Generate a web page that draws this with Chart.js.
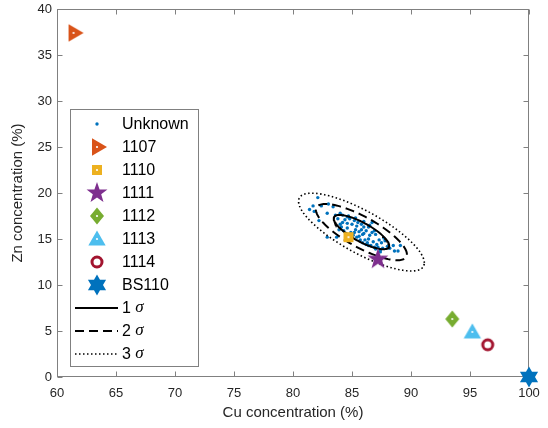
<!DOCTYPE html>
<html><head><meta charset="utf-8">
<script src="https://cdn.jsdelivr.net/npm/chart.js@4.4.0/dist/chart.umd.min.js"></script>
<style>html,body{margin:0;padding:0;background:#fff;}#wrap{width:548px;height:428px;position:relative;}</style>
</head><body><div id="wrap"><canvas id="c" width="548" height="428"></canvas></div>
<script>
// ---- data ----
const unknownX = [82.1,81.7,81.4,82.4,83.0,83.4,82.9,82.2,82.9,83.7,84.6,86.7,88.6,88.9,89.1,88.5,88.2,87.4,86.4,81.8,
83.8,84.0,84.2,84.1,84.4,84.6,84.3,84.8,85.0,84.9,85.2,85.3,85.1,85.5,85.6,85.4,85.8,85.9,85.7,86.0,86.2,86.1,86.4,86.5,86.3,86.7,86.8,86.6,87.0,87.1,87.3,87.2,87.5,87.6,87.8,86.9,85.0,84.5,85.9,86.0,84.7,85.3,87.4,88.0,86.5,85.6,84.2,83.9,86.9,87.7,85.2,86.2,84.6,85.8,86.4,85.4,83.6,84.0,87.0,86.0];
const unknownY = [19.5,18.6,18.2,18.6,18.8,18.5,17.8,17.0,15.2,15.2,17.4,16.8,13.7,13.7,14.3,14.3,14.0,13.6,14.3,18.0,
17.2,16.6,17.6,16.3,17.1,16.2,15.9,17.2,16.6,15.7,17.0,16.0,15.4,16.8,15.8,15.2,16.6,15.5,14.9,16.3,15.9,14.9,16.3,15.4,14.6,15.7,14.7,14.3,15.5,14.4,14.9,14.1,14.6,14.0,14.8,14.1,15.1,15.6,14.6,16.9,17.5,17.3,13.8,14.2,16.5,15.3,16.8,16.0,15.9,15.1,15.7,14.4,16.7,16.0,15.0,16.4,17.6,17.8,13.9,15.6];
const refNames = ['1107','1110','1111','1112','1113','1114','BS110'];
const refX = [61.4, 84.7, 87.2, 93.5, 95.2, 96.5, 100];
const refY = [37.4, 15.2, 12.8, 6.3, 4.9, 3.5, 0];
const sigmaNames = ['1', '2', '3'];
const sigmaK = [1.515, 2.486, 3.439];
const ellipseCenter = [85.8, 15.75];
const ellipseSD = [1.55, 1.23];
const ellipseRho = -0.79;
const xTicks = [60,65,70,75,80,85,90,95,100];
const yTicks = [0,5,10,15,20,25,30,35,40];

// ---- styles ----
const refColors = ['#D95319','#EDB120','#7E2F8E','#77AC30','#4DBEEE','#A2142F','#0072BD'];
const refShapes = ['triRight','square','star','diamond','triUp','ring','hexagram'];
const sigmaDash = [[], [9,5], [1.5,2.5]];
const sigmaWidth = [2, 2, 1.6];
const FONT = '"Liberation Sans", Arial, Helvetica, sans-serif';

function makeMarker(kind, color) {
  const S = 26, m = S/2;
  const c = document.createElement('canvas'); c.width = S; c.height = S;
  const g = c.getContext('2d');
  g.fillStyle = color; g.strokeStyle = color;
  const poly = (pts) => { g.beginPath(); pts.forEach((p,i)=> i? g.lineTo(m+p[0], m+p[1]) : g.moveTo(m+p[0], m+p[1])); g.closePath(); g.fill(); };
  const star = (n, ro, ri, a0) => { const pts=[]; for (let i=0;i<2*n;i++){ const r = i%2? ri: ro; const a = a0 + i*Math.PI/n; pts.push([r*Math.cos(a), r*Math.sin(a)]);} poly(pts); };
  let dot = true;
  if (kind==='triRight') { const r=10; poly([0,120,240].map(d=>[r*Math.cos(d*Math.PI/180), r*Math.sin(d*Math.PI/180)])); }
  else if (kind==='triUp') { const r=10; poly([-90,30,150].map(d=>[r*Math.cos(d*Math.PI/180), r*Math.sin(d*Math.PI/180)+1.5])); }
  else if (kind==='square') { g.fillRect(m-5, m-5, 10, 10); }
  else if (kind==='diamond') { poly([[0,-8.5],[7,0],[0,8.5],[-7,0]]); }
  else if (kind==='star') { star(5, 11, 4.4, -Math.PI/2); dot=false; }
  else if (kind==='hexagram') { star(6, 10.5, 6.0, -Math.PI/2); dot=false; }
  else if (kind==='ring') { g.beginPath(); g.arc(m, m, 5, 0, 2*Math.PI); g.fillStyle='#fff'; g.fill(); g.lineWidth=3; g.stroke(); dot=false; }
  if (dot) { g.beginPath(); g.arc(m, m, 1.1, 0, 2*Math.PI); g.fillStyle='#fff'; g.fill(); }
  return c;
}
const refMarkers = refShapes.map((s,i)=>makeMarker(s, refColors[i]));

function ellipsePoints(k) {
  const pts = [];
  const N = 140;
  for (let i=0;i<=N;i++) {
    const t = 2*Math.PI*i/N;
    pts.push({
      x: ellipseCenter[0] + k*ellipseSD[0]*Math.cos(t),
      y: ellipseCenter[1] + k*ellipseSD[1]*(ellipseRho*Math.cos(t) + Math.sqrt(1-ellipseRho*ellipseRho)*Math.sin(t))
    });
  }
  return pts;
}

const datasets = [];
datasets.push({ label:'Unknown', data: unknownX.map((x,i)=>({x, y: unknownY[i]})), pointRadius:1.7, pointHoverRadius:1.7,
  backgroundColor:'#0072BD', borderWidth:0, showLine:false, order:10 });
refNames.forEach((n,i)=>datasets.push({ label:n, data:[{x:refX[i], y:refY[i]}], pointStyle: refMarkers[i], showLine:false, order:1, clip:false }));
sigmaNames.forEach((n,i)=>datasets.push({ label:n+' σ', data: ellipsePoints(sigmaK[i]), showLine:true, pointRadius:0,
  borderColor:'#000', borderWidth: sigmaWidth[i], borderDash: sigmaDash[i], fill:false, tension:0, order:5 }));

const framePlugin = {
  id:'frame',
  beforeDatasetsDraw(chart) {
    const {ctx, chartArea:a, scales:{x, y}} = chart;
    ctx.save();
    ctx.strokeStyle = '#808080'; ctx.lineWidth = 1;
    const L = Math.round(a.left)+0.5, R = Math.round(a.right)-0.5, T = Math.round(a.top)+0.5, B = Math.round(a.bottom)-0.5;
    ctx.strokeRect(L, T, R-L, B-T);
    ctx.beginPath();
    xTicks.forEach(v => { const px = Math.round(x.getPixelForValue(v))+0.5; ctx.moveTo(px,B); ctx.lineTo(px,B-5); ctx.moveTo(px,T); ctx.lineTo(px,T+5); });
    yTicks.forEach(v => { const py = Math.round(y.getPixelForValue(v))+0.5; ctx.moveTo(L,py); ctx.lineTo(L+5,py); ctx.moveTo(R,py); ctx.lineTo(R-5,py); });
    ctx.stroke();
    ctx.restore();
  },
  afterDraw(chart) {
    const ctx = chart.ctx;
    const box = {l:70.5, t:109.5, r:198.5, b:366.5};
    ctx.save();
    ctx.fillStyle = '#fff'; ctx.fillRect(box.l, box.t, box.r-box.l, box.b-box.t);
    ctx.strokeStyle = '#808080'; ctx.lineWidth = 1; ctx.strokeRect(box.l, box.t, box.r-box.l, box.b-box.t);
    const y0 = 124, step = 23, mx = 97, tx = 122;
    ctx.textBaseline = 'middle'; ctx.textAlign = 'left'; ctx.fillStyle = '#000';
    ctx.font = '16px ' + FONT;
    ctx.beginPath(); ctx.arc(mx, y0, 1.7, 0, 2*Math.PI); ctx.fillStyle = '#0072BD'; ctx.fill();
    ctx.fillStyle = '#000'; ctx.fillText('Unknown', tx, y0+1);
    refNames.forEach((n,i)=>{
      const yy = y0 + step*(i+1);
      const im = refMarkers[i];
      ctx.drawImage(im, mx - im.width/2, yy - im.height/2);
      ctx.fillStyle = '#000'; ctx.font = '16px ' + FONT; ctx.fillText(n, tx, yy+1);
    });
    sigmaNames.forEach((n,i)=>{
      const yy = y0 + step*(refNames.length+1+i);
      ctx.beginPath(); ctx.setLineDash(sigmaDash[i]); ctx.lineWidth = sigmaWidth[i]; ctx.strokeStyle = '#000';
      ctx.moveTo(75, yy); ctx.lineTo(118, yy); ctx.stroke(); ctx.setLineDash([]);
      ctx.fillStyle = '#000'; ctx.font = '16px ' + FONT; ctx.fillText(n + ' ', tx, yy+1);
      const w = ctx.measureText(n + ' ').width;
      ctx.font = 'italic 17px "Liberation Serif", "Times New Roman", serif'; ctx.fillText('σ', tx + w, yy);
    });
    ctx.restore();
  }
};

new Chart(document.getElementById('c'), {
  type:'scatter',
  data:{ datasets },
  options:{
    responsive:false, animation:false, devicePixelRatio:1,
    layout:{ padding:{ top:9, right:19, left:0, bottom:0 } },
    plugins:{ legend:{display:false}, tooltip:{enabled:false} },
    scales:{
      x:{ type:'linear', min:60, max:100,
        afterBuildTicks: s => { s.ticks = xTicks.map(v=>({value:v})); },
        afterFit: s => { s.height = 51; },
        grid:{ display:false, drawTicks:false }, border:{display:false},
        ticks:{ padding:6, font:{family:FONT, size:13, lineHeight:1.65}, color:'#262626' },
        title:{ display:true, text:'Cu concentration (%)', font:{family:FONT, size:15}, color:'#262626', padding:{top:0,bottom:6} } },
      y:{ type:'linear', min:0, max:40,
        afterBuildTicks: s => { s.ticks = yTicks.map(v=>({value:v})); },
        afterFit: s => { s.width = 57; },
        grid:{ display:false, drawTicks:false }, border:{display:false},
        ticks:{ padding:5, font:{family:FONT, size:13, lineHeight:0.5}, color:'#262626' },
        title:{ display:true, text:'Zn concentration (%)', font:{family:FONT, size:15}, color:'#262626', padding:{top:9,bottom:0} } }
    }
  },
  plugins:[framePlugin]
});
</script></body></html>
